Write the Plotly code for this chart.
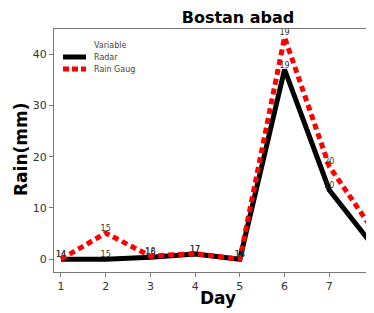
import plotly.graph_objects as go

days = [1, 2, 3, 4, 5, 6, 7, 8]
radar = [0, 0, 0.4, 1.0, 0, 37, 13.5, 2.4]
rain_gauge = [0, 5.1, 0.6, 1.1, 0, 43.3, 18.1, 5.4]
radar_labels = ["14", "15", "16", "17", "18", "19", "20", "21"]
gauge_labels = ["14", "15", "18", "17", "18", "19", "20", "21"]
series_names = ["Radar", "Rain Gaug"]

# page body has an 8px default margin; lay out in reference pixels minus 8
O = 8
W, H = 374 - O, 313 - O
ML, MT, MR = 54 - O, 29 - O, 0
MB = H - (272 - O)
PW, PH = W - ML - MR, H - MT - MB


def px_x(x):
    return (x - O - ML) / PW


def px_y(y):
    return 1 - (y - O - MT) / PH


fig = go.Figure()
fig.add_trace(go.Scatter(
    x=days, y=radar, mode="lines+text", name=series_names[0],
    line=dict(color="black", width=5),
    text=radar_labels, textposition="top center",
    textfont=dict(family="DejaVu Sans", size=8, color="#333"),
    cliponaxis=True, showlegend=False,
))
fig.add_trace(go.Scatter(
    x=days, y=rain_gauge, mode="lines+text", name=series_names[1],
    line=dict(color="#ff0000", width=5, dash="6px,4px"),
    text=gauge_labels, textposition="top center",
    textfont=dict(family="DejaVu Sans", size=8, color="#333"),
    cliponaxis=True, showlegend=False,
))

leg_font = dict(family="DejaVu Sans", size=8, color="#444")
annotations = [
    dict(text="Variable", x=px_x(92), y=px_y(45), xref="paper", yref="paper",
         xanchor="left", yanchor="middle", showarrow=False, font=leg_font),
    dict(text=series_names[0], x=px_x(92), y=px_y(57), xref="paper", yref="paper",
         xanchor="left", yanchor="middle", showarrow=False, font=leg_font),
    dict(text=series_names[1], x=px_x(92), y=px_y(69), xref="paper", yref="paper",
         xanchor="left", yanchor="middle", showarrow=False, font=leg_font),
    dict(text="<b>Day</b>", x=px_x(218), y=px_y(298), xref="paper", yref="paper",
         xanchor="center", yanchor="middle", showarrow=False,
         font=dict(family="DejaVu Sans", size=17, color="black")),
    dict(text="<b>Rain(mm)</b>", x=px_x(21), y=px_y(150), xref="paper", yref="paper",
         xanchor="center", yanchor="middle", showarrow=False, textangle=-90,
         font=dict(family="DejaVu Sans", size=17, color="black")),
]
shapes = [
    dict(type="line", xref="paper", yref="paper", x0=px_x(63), x1=px_x(86),
         y0=px_y(57), y1=px_y(57), line=dict(color="black", width=5)),
    dict(type="line", xref="paper", yref="paper", x0=px_x(63), x1=px_x(86),
         y0=px_y(69), y1=px_y(69), line=dict(color="#ff0000", width=5, dash="6px,3px")),
]

fig.update_layout(
    width=W, height=H,
    margin=dict(l=ML, r=MR, t=MT, b=MB, pad=0, autoexpand=False),
    paper_bgcolor="white", plot_bgcolor="white",
    font=dict(family="DejaVu Sans", color="#222"),
    title=dict(text="<b>Bostan abad</b>", x=(238 - O) / W, xanchor="center",
               y=1 - (17 - O) / H, yanchor="middle", yref="container",
               font=dict(family="DejaVu Sans", size=16, color="black")),
    showlegend=False,
    annotations=annotations,
    shapes=shapes,
    xaxis=dict(
        range=[0.844, 8.0], tickvals=days, ticktext=[str(d) for d in days],
        showgrid=False, zeroline=False, automargin=False,
        showline=True, linecolor="#777", linewidth=1, mirror=True,
        ticks="outside", ticklen=4, tickcolor="#777",
        tickfont=dict(family="DejaVu Sans", size=11, color="#333"),
    ),
    yaxis=dict(
        range=[-2.5, 44.9], tickvals=[0, 10, 20, 30, 40],
        showgrid=False, zeroline=False, automargin=False,
        showline=True, linecolor="#777", linewidth=1, mirror=False,
        ticks="outside", ticklen=4, tickcolor="#777",
        tickfont=dict(family="DejaVu Sans", size=11, color="#333"),
    ),
)

fig.write_html("out.html")
